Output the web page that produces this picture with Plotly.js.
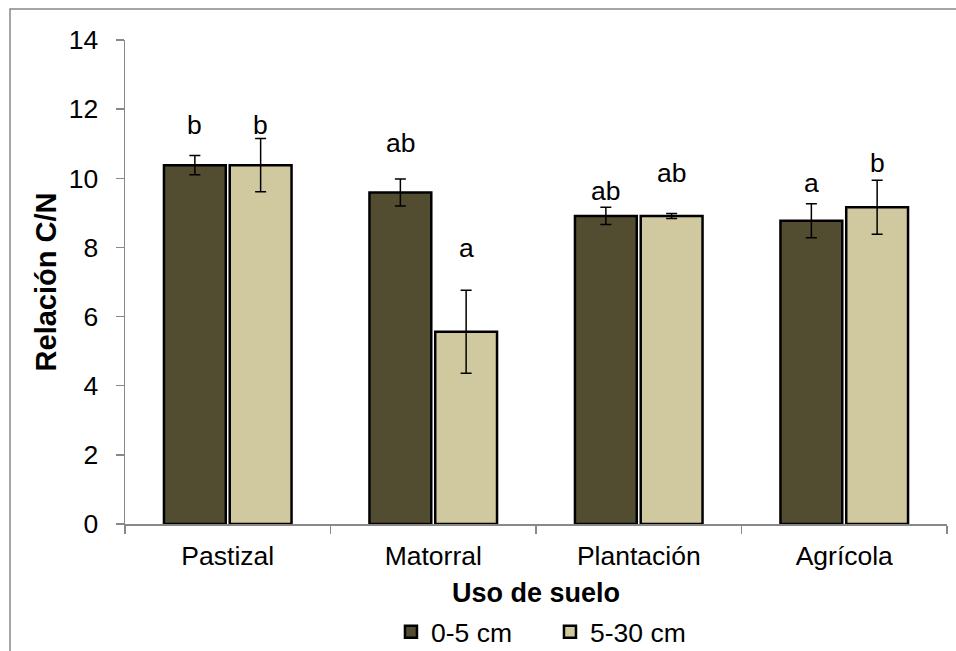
<!DOCTYPE html>
<html>
<head>
<meta charset="utf-8">
<script src="https://cdn.plot.ly/plotly-3.0.1.min.js"></script>
<style>html,body{margin:0;padding:0;background:#fff;}#chart{width:956px;height:651px;}</style>
</head>
<body>
<div id="chart"></div>
<script>
const categories = ["Pastizal", "Matorral", "Plantación", "Agrícola"];
const seriesNames = ["0-5 cm", "5-30 cm"];
const values0_5 = [10.38, 9.59, 8.91, 8.77];
const err0_5 = [0.28, 0.39, 0.25, 0.49];
const values5_30 = [10.38, 5.56, 8.91, 9.16];
const err5_30 = [0.77, 1.2, 0.07, 0.78];
const letters0_5 = ["b", "ab", "ab", "a"];
const letters5_30 = ["b", "a", "ab", "b"];
const letterY0_5 = [11.54, 11.02, 9.64, 9.86];
const letterY5_30 = [11.54, 7.98, 10.14, 10.44];
const yTicks = [0, 2, 4, 6, 8, 10, 12, 14];

const FONT = "Liberation Sans, Arial, sans-serif";
const FS = 26.5;
const darkColor = "#524C30";
const lightColor = "#D0C9A0";

function barTrace(name, vals, errs, color) {
  return {
    type: "bar", name: name, x: categories, y: vals,
    marker: {color: color, line: {color: "#000", width: 2.5}},
    error_y: {type: "data", array: errs, visible: true, color: "#000", thickness: 1.5, width: 5.5},
    hoverinfo: "skip"
  };
}

const data = [
  barTrace(seriesNames[0], values0_5, err0_5, darkColor),
  barTrace(seriesNames[1], values5_30, err5_30, lightColor)
];

const annotations = [];
categories.forEach((c, i) => {
  annotations.push({x: c, y: letterY0_5[i], xref: "x", yref: "y", text: letters0_5[i], showarrow: false, xshift: -33, font: {family: FONT, size: FS, color: "#000"}});
  annotations.push({x: c, y: letterY5_30[i], xref: "x", yref: "y", text: letters5_30[i], showarrow: false, xshift: 33, font: {family: FONT, size: FS, color: "#000"}});
});

const layout = {
  width: 956, height: 651,
  margin: {l: 125, r: 9, t: 40, b: 127, autoexpand: false},
  paper_bgcolor: "#fff", plot_bgcolor: "#fff",
  font: {family: FONT, size: FS, color: "#000"},
  barmode: "group", bargap: 0.36, bargroupgap: 0.06,
  showlegend: true,
  legend: {orientation: "h", x: 0.517, xanchor: "center", y: -0.223, yanchor: "middle",
    font: {family: FONT, size: FS, color: "#000"}, itemwidth: 30, tracegroupgap: 0,
    entrywidth: 114, entrywidthmode: "pixels"},
  xaxis: {
    type: "category", tickson: "boundaries", ticks: "outside", ticklen: 8, tickcolor: "#888", tickwidth: 1.5,
    showline: true, linecolor: "#888", linewidth: 1.5, showgrid: false, zeroline: false,
    ticklabelstandoff: 8,
    tickfont: {family: FONT, size: FS, color: "#000"},
    title: {text: "<b>Uso de suelo</b>", font: {family: FONT, size: 27, color: "#000"}, standoff: 13}
  },
  yaxis: {
    range: [0, 14], tickvals: yTicks, ticks: "outside", ticklen: 8, tickcolor: "#888", tickwidth: 1.5,
    showline: true, linecolor: "#888", linewidth: 1.5, showgrid: false, zeroline: false,
    ticklabelstandoff: 12,
    tickfont: {family: FONT, size: FS, color: "#000"},
    title: {text: "<b>Relación C/N</b>", font: {family: FONT, size: 29, color: "#000"}, standoff: 3}
  },
  annotations: annotations,
  shapes: [{type: "rect", xref: "paper", yref: "paper", x0: -0.1399, x1: 1.02, y0: -0.3, y1: 1.064,
    line: {color: "#888", width: 1.5}, fillcolor: "rgba(0,0,0,0)", layer: "below"}]
};

Plotly.newPlot("chart", data, layout, {displayModeBar: false, staticPlot: true});
</script>
</body>
</html>
